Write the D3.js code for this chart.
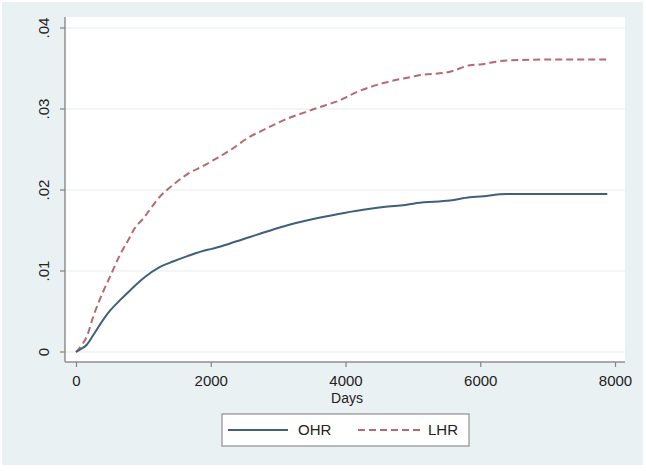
<!DOCTYPE html>
<html><head><meta charset="utf-8">
<script src="https://cdn.jsdelivr.net/npm/d3@7"></script>
<style>body{margin:0;background:#fff}svg{display:block}</style>
</head><body>
<svg id="c" width="646" height="471"></svg>
<script>
const days = [0, 80, 160, 257, 405, 505, 653, 801, 851, 1000, 1247, 1450, 1643, 1940, 2000, 2286, 2583, 2731, 3077, 3572, 4000, 4067, 4561, 5000, 5056, 5551, 5848, 6000, 6392, 7000, 7886];
const ohr = [0, 0.0004, 0.0009, 0.0021, 0.0040, 0.0051, 0.0064, 0.0076, 0.0080, 0.0091, 0.0105, 0.0112, 0.0118, 0.0126, 0.0127, 0.0134, 0.0142, 0.0146, 0.0155, 0.0165, 0.0172, 0.0173, 0.0179, 0.0183, 0.0184, 0.0187, 0.0191, 0.0192, 0.0195, 0.0195, 0.0195];
const lhr = [0, 0.0008, 0.0019, 0.0044, 0.0075, 0.0093, 0.0120, 0.0142, 0.0150, 0.0165, 0.0192, 0.0207, 0.0219, 0.0232, 0.0235, 0.0249, 0.0266, 0.0272, 0.0286, 0.0301, 0.0314, 0.0317, 0.0332, 0.0340, 0.0341, 0.0346, 0.0354, 0.0355, 0.0360, 0.0361, 0.0361];
const xTicks = [0, 2000, 4000, 6000, 8000];
const yTicks = [0, 0.01, 0.02, 0.03, 0.04];
const yTickLabels = ["0", ".01", ".02", ".03", ".04"];
const seriesNames = ["OHR", "LHR"];

const svg = d3.select("#c");
const font = "'Liberation Sans', Arial, sans-serif";
svg.append("rect").attr("x",2).attr("y",2).attr("width",641).attr("height",463).attr("fill","#eaf1f3");
const L=65,R=625,T=17,B=362;
svg.append("rect").attr("x",L).attr("y",T).attr("width",R-L).attr("height",B-T).attr("fill","#fff");

const x = d3.scaleLinear().domain([0,8000]).range([76,615]);
const y = d3.scaleLinear().domain([0,0.04]).range([352,28]);

// grid
svg.append("g").selectAll("line").data(yTicks).join("line")
  .attr("x1",L).attr("x2",R).attr("y1",d=>y(d)).attr("y2",d=>y(d))
  .attr("stroke","#e6edf0").attr("stroke-width",1.2);

// axes
const xa = svg.append("g").attr("transform",`translate(0,${B})`)
  .call(d3.axisBottom(x).tickValues(xTicks).tickSize(5).tickPadding(6).tickFormat(d3.format("d")));
const ya = svg.append("g").attr("transform",`translate(${L},0)`)
  .call(d3.axisLeft(y).tickValues(yTicks).tickSize(5).tickPadding(6).tickFormat((d,i)=>yTickLabels[i]));
xa.select(".domain").attr("d",`M${L},0H${R}`);
ya.select(".domain").attr("d",`M0,${T}V${B}`);
[xa,ya].forEach(a=>{
  a.select(".domain").attr("stroke","#8c8f92").attr("stroke-width",1.5);
  a.selectAll(".tick line").attr("stroke","#7f8386").attr("stroke-width",1.2);
  a.selectAll("text").attr("font-family",font).attr("font-size",15).attr("fill","#222");
});
xa.selectAll(".tick text").attr("y",24).attr("dy",null);
ya.selectAll(".tick").attr("transform",null);
ya.selectAll(".tick line").attr("y1",d=>y(d)).attr("y2",d=>y(d));
ya.selectAll(".tick text").each(function(d){
  d3.select(this).attr("x",-21).attr("y",y(d)).attr("dy","0.35em").attr("text-anchor","middle")
    .attr("transform",`rotate(-90,-21,${y(d)})`);
});

svg.append("text").attr("x",347).attr("y",403).attr("text-anchor","middle")
  .attr("font-family",font).attr("font-size",14).attr("fill","#222").text("Days");

const line = d3.line().x((d,i)=>x(days[i])).y(d=>y(d)).curve(d3.curveMonotoneX);
svg.append("path").attr("d",line(lhr)).attr("fill","none").attr("stroke","#b56a72")
  .attr("stroke-width",2).attr("stroke-dasharray","7,4");
svg.append("path").attr("d",line(ohr)).attr("fill","none").attr("stroke","#3f5f7c")
  .attr("stroke-width",2);

// legend
const lg = svg.append("g");
lg.append("rect").attr("x",222).attr("y",414).attr("width",247).attr("height",32)
  .attr("fill","#fff").attr("stroke","#8c8f92").attr("stroke-width",1.2);
lg.append("line").attr("x1",228).attr("x2",288).attr("y1",430).attr("y2",430)
  .attr("stroke","#3f5f7c").attr("stroke-width",2);
lg.append("text").attr("x",298).attr("y",430).attr("dy","0.36em").attr("font-family",font)
  .attr("font-size",15).attr("fill","#222").text(seriesNames[0]);
lg.append("line").attr("x1",358).attr("x2",420).attr("y1",430).attr("y2",430)
  .attr("stroke","#b56a72").attr("stroke-width",2).attr("stroke-dasharray","7,4");
lg.append("text").attr("x",428).attr("y",430).attr("dy","0.36em").attr("font-family",font)
  .attr("font-size",15).attr("fill","#222").text(seriesNames[1]);
</script>
</body></html>
